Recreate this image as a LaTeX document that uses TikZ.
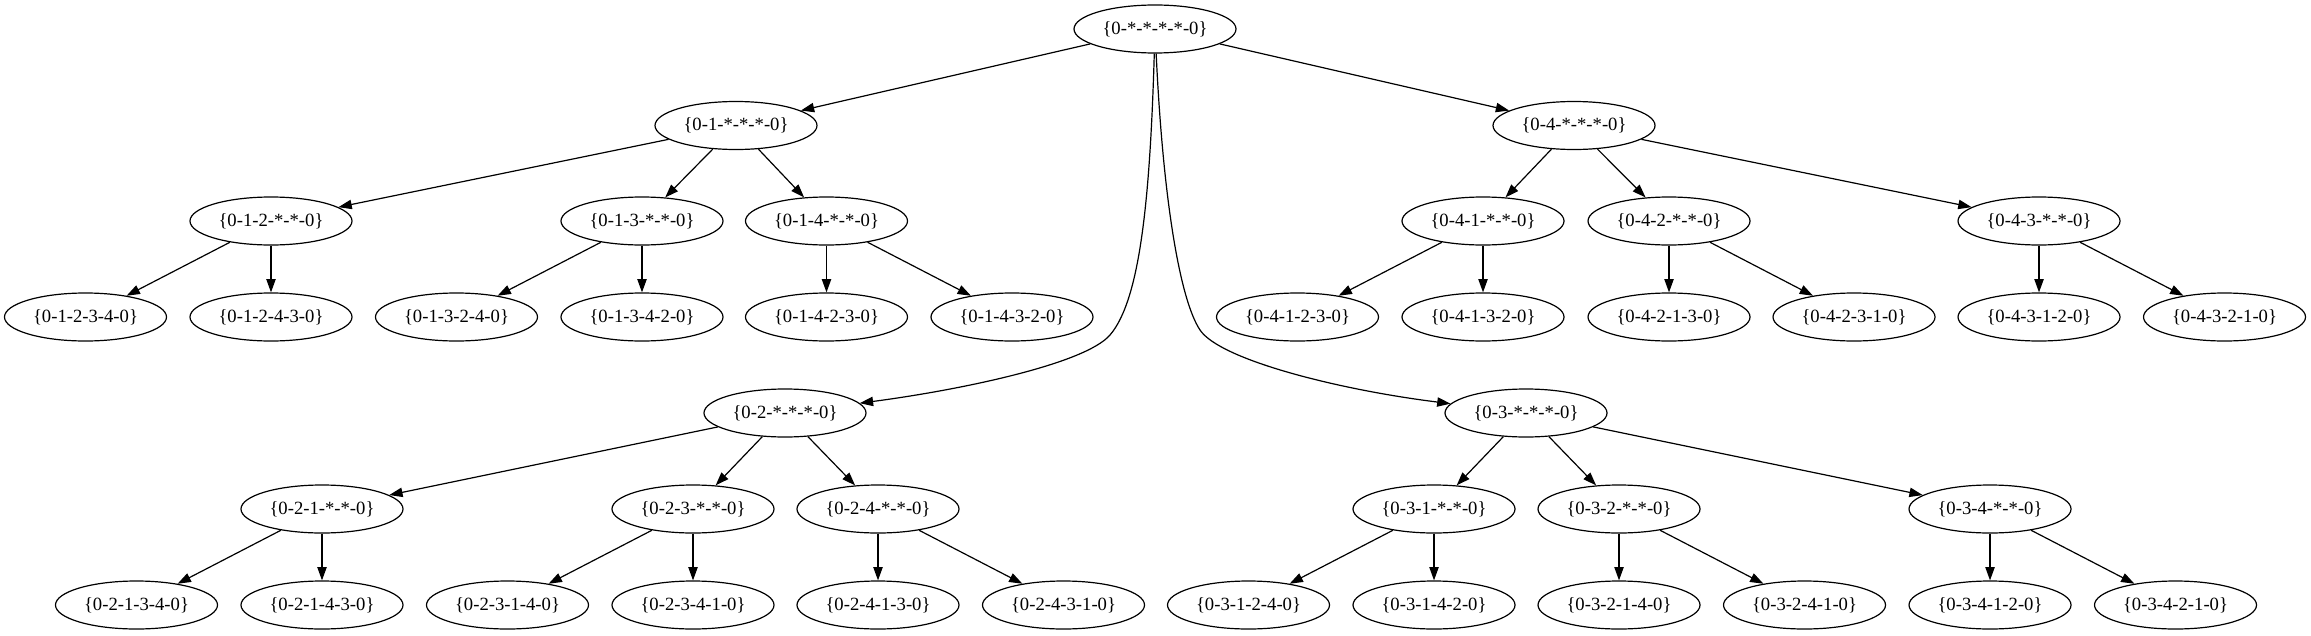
\documentclass[tikz,border=0pt]{standalone}
\usepackage{fontspec}
\setmainfont{Liberation Serif}
\usepackage{tikz}
\usetikzlibrary{arrows.meta,shapes.geometric}
\tikzset{perm/.style={
    draw, ellipse,
    line width=0.9pt,
    minimum width=121.5pt,
    minimum height=36pt,
    inner sep=0pt,
    font=\fontsize{14}{16}\selectfont
  },
  edge/.style={line width=0.9pt, -{Triangle[length=10pt,width=7pt]}}
}

\begin{document}
\begin{tikzpicture}[x=0.75pt,y=-0.75pt]
    \useasboundingbox (0,0) rectangle (2311,635);
    \node[perm] (root) at (1155,29) {\{0-*-*-*-*-0\}};
    \node[perm] (n1) at (736,125.5) {\{0-1-*-*-*-0\}};
    \node[perm] (n4) at (1574,125.5) {\{0-4-*-*-*-0\}};
    \node[perm] (n12) at (271,221) {\{0-1-2-*-*-0\}};
    \node[perm] (n13) at (642,221) {\{0-1-3-*-*-0\}};
    \node[perm] (n14) at (826.5,221) {\{0-1-4-*-*-0\}};
    \node[perm] (n41) at (1483,221) {\{0-4-1-*-*-0\}};
    \node[perm] (n42) at (1669,221) {\{0-4-2-*-*-0\}};
    \node[perm] (n43) at (2039,221) {\{0-4-3-*-*-0\}};
    \node[perm] (n123) at (85.5,317) {\{0-1-2-3-4-0\}};
    \node[perm] (n124) at (271,317) {\{0-1-2-4-3-0\}};
    \node[perm] (n132) at (456.5,317) {\{0-1-3-2-4-0\}};
    \node[perm] (n134) at (642,317) {\{0-1-3-4-2-0\}};
    \node[perm] (n142) at (826.5,317) {\{0-1-4-2-3-0\}};
    \node[perm] (n143) at (1012,317) {\{0-1-4-3-2-0\}};
    \node[perm] (n412) at (1297.5,317) {\{0-4-1-2-3-0\}};
    \node[perm] (n413) at (1483,317) {\{0-4-1-3-2-0\}};
    \node[perm] (n421) at (1669,317) {\{0-4-2-1-3-0\}};
    \node[perm] (n423) at (1854,317) {\{0-4-2-3-1-0\}};
    \node[perm] (n431) at (2039,317) {\{0-4-3-1-2-0\}};
    \node[perm] (n432) at (2224.5,317) {\{0-4-3-2-1-0\}};
    \node[perm] (n2) at (785,413) {\{0-2-*-*-*-0\}};
    \node[perm] (n3) at (1526,413) {\{0-3-*-*-*-0\}};
    \node[perm] (n21) at (322,509) {\{0-2-1-*-*-0\}};
    \node[perm] (n23) at (693,509) {\{0-2-3-*-*-0\}};
    \node[perm] (n24) at (878,509) {\{0-2-4-*-*-0\}};
    \node[perm] (n31) at (1434,509) {\{0-3-1-*-*-0\}};
    \node[perm] (n32) at (1619,509) {\{0-3-2-*-*-0\}};
    \node[perm] (n34) at (1990,509) {\{0-3-4-*-*-0\}};
    \node[perm] (n213) at (136.5,605) {\{0-2-1-3-4-0\}};
    \node[perm] (n214) at (322,605) {\{0-2-1-4-3-0\}};
    \node[perm] (n231) at (507.5,605) {\{0-2-3-1-4-0\}};
    \node[perm] (n234) at (693,605) {\{0-2-3-4-1-0\}};
    \node[perm] (n241) at (878,605) {\{0-2-4-1-3-0\}};
    \node[perm] (n243) at (1063.5,605) {\{0-2-4-3-1-0\}};
    \node[perm] (n312) at (1248.5,605) {\{0-3-1-2-4-0\}};
    \node[perm] (n314) at (1434,605) {\{0-3-1-4-2-0\}};
    \node[perm] (n321) at (1619,605) {\{0-3-2-1-4-0\}};
    \node[perm] (n324) at (1804.5,605) {\{0-3-2-4-1-0\}};
    \node[perm] (n341) at (1990,605) {\{0-3-4-1-2-0\}};
    \node[perm] (n342) at (2175.5,605) {\{0-3-4-2-1-0\}};

    \draw[edge] (root) -- (n1);
    \draw[edge] (root) -- (n4);
    \draw[edge] (root) .. controls (1150,200) and (1140,300) .. (1110,335)
        .. controls (1085,364) and (960,390) .. (n2);
    \draw[edge] (root) .. controls (1163,200) and (1180,300) .. (1200,330)
        .. controls (1220,360) and (1340,390) .. (n3);
    \draw[edge] (n1) -- (n12);
    \draw[edge] (n1) -- (n13);
    \draw[edge] (n1) -- (n14);
    \draw[edge] (n4) -- (n41);
    \draw[edge] (n4) -- (n42);
    \draw[edge] (n4) -- (n43);
    \draw[edge] (n12) -- (n123);
    \draw[edge] (n12) -- (n124);
    \draw[edge] (n13) -- (n132);
    \draw[edge] (n13) -- (n134);
    \draw[edge] (n14) -- (n142);
    \draw[edge] (n14) -- (n143);
    \draw[edge] (n41) -- (n412);
    \draw[edge] (n41) -- (n413);
    \draw[edge] (n42) -- (n421);
    \draw[edge] (n42) -- (n423);
    \draw[edge] (n43) -- (n431);
    \draw[edge] (n43) -- (n432);
    \draw[edge] (n2) -- (n21);
    \draw[edge] (n2) -- (n23);
    \draw[edge] (n2) -- (n24);
    \draw[edge] (n3) -- (n31);
    \draw[edge] (n3) -- (n32);
    \draw[edge] (n3) -- (n34);
    \draw[edge] (n21) -- (n213);
    \draw[edge] (n21) -- (n214);
    \draw[edge] (n23) -- (n231);
    \draw[edge] (n23) -- (n234);
    \draw[edge] (n24) -- (n241);
    \draw[edge] (n24) -- (n243);
    \draw[edge] (n31) -- (n312);
    \draw[edge] (n31) -- (n314);
    \draw[edge] (n32) -- (n321);
    \draw[edge] (n32) -- (n324);
    \draw[edge] (n34) -- (n341);
    \draw[edge] (n34) -- (n342);
\end{tikzpicture}
\end{document}
